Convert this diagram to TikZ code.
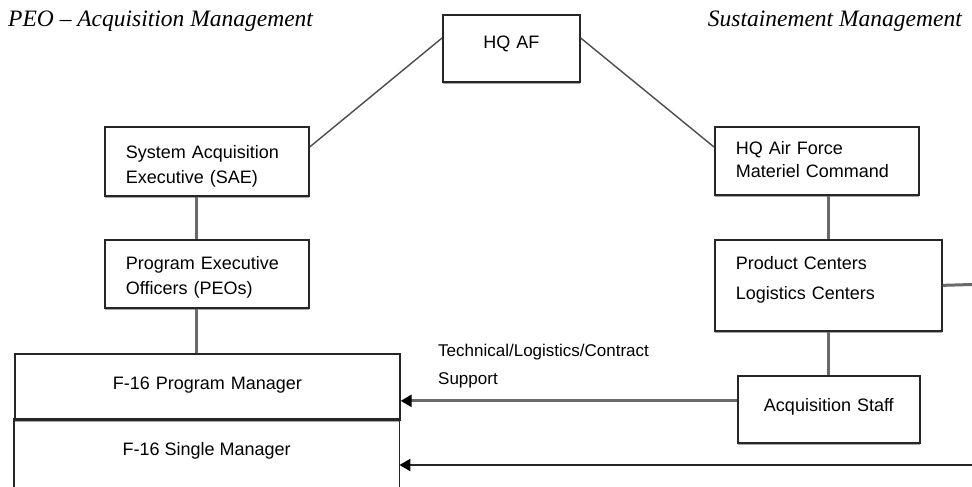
\documentclass[tikz,border=0pt]{standalone}
\usepackage{fontspec}
\setmainfont{Liberation Sans}
\newfontfamily\titlefont{Liberation Serif}
\usetikzlibrary{arrows.meta,shadows}
\definecolor{conngray}{HTML}{6A6A6A}
\definecolor{boxline}{HTML}{262626}
\newcommand{\liftl}[2]{\raisebox{#1}[\height][\depth]{\begin{tabular}{@{}l@{}}#2\end{tabular}}}
\newcommand{\liftc}[2]{\raisebox{#1}[\height][\depth]{\begin{tabular}{@{}c@{}}#2\end{tabular}}}
\begin{document}
\begin{tikzpicture}[x=1pt,y=-1pt,
  box/.style={draw=boxline, line width=1.7pt, fill=white, anchor=north west,
    inner xsep=21pt, inner ysep=0pt, align=left,
    drop shadow={shadow xshift=0pt, shadow yshift=-2pt, fill=black!35, opacity=1}},
  lbl18/.style={font=\fontsize{18}{25}\selectfont},
  conn/.style={draw=conngray, line width=3pt},
  diag/.style={draw=black!70, line width=1.4pt},
  titletext/.style={font=\titlefont\itshape\fontsize{23.5}{26}\selectfont, inner sep=0pt, anchor=base west},
  arrowhead/.style={-{Triangle[length=11pt,width=12pt,color=black]}},
]
\useasboundingbox[fill=white] (0,0) rectangle (972,487);
\clip (0,0) rectangle (972,487);

% titles
\node[titletext] (ttl) at (8,27) {PEO – Acquisition Management};
\node[titletext, anchor=base east] (ttr) at (962,27) {Sustainement Management};

% boxes
\node[box, lbl18, minimum width=137pt, minimum height=67pt, text width=95pt, align=center] (hq) at (442,14) {\liftc{4.5pt}{HQ AF}};
\node[box, lbl18, minimum width=204pt, minimum height=69pt, text width=162pt] (sae) at (104,126) {\liftl{-5pt}{System Acquisition\\Executive (SAE)}};
\node[box, lbl18, minimum width=204pt, minimum height=68pt, text width=162pt] (peo) at (104,239) {\liftl{-3pt}{Program Executive\\Officers (PEOs)}};
\node[box, font=\fontsize{18}{23}\selectfont, minimum width=204pt, minimum height=68pt, text width=162pt] (afmc) at (714,126) {\liftl{-1pt}{HQ Air Force\\Materiel Command}};
\node[box, font=\fontsize{18}{30}\selectfont, minimum width=227pt, minimum height=91pt, text width=185pt] (pc) at (714,239) {\liftl{7pt}{Product Centers\\Logistics Centers}};
\node[box, lbl18, minimum width=182pt, minimum height=67pt, text width=140pt, align=center] (acq) at (737,375) {\liftc{3pt}{Acquisition Staff}};

% F-16 boxes
\node[box, lbl18, minimum width=385pt, minimum height=66pt, text width=343pt, align=center] (pm) at (14,353) {\liftc{2pt}{F-16 Program Manager}};
\node[lbl18, anchor=north west, minimum width=385pt, minimum height=66pt, inner sep=0pt, align=center] (sm) at (14,419) {\liftc{2pt}{F-16 Single Manager}};
\draw[draw=boxline, line width=1.7pt] ([yshift=-20pt]sm.south west) -- (sm.north west) -- (sm.north east) -- ([yshift=-20pt]sm.south east);

% label
\node[font=\fontsize{17}{28}\selectfont, anchor=north west, inner sep=0pt, align=left] (tlabel) at (438,344) {Technical/Logistics/Contract\\Support};

% connectors
\draw[diag] ([yshift=-24pt]hq.north west) -- ([yshift=-21pt]sae.north east);
\draw[diag] ([yshift=-24pt]hq.north east) -- ([yshift=-21pt]afmc.north west);
\draw[conn] ([xshift=-10pt]sae.south) -- ([xshift=-10pt]peo.north);
\coordinate (peobot) at ([xshift=-10pt]peo.south);
\draw[conn] (peobot) -- (pm.north -| peobot);
\draw[conn] (afmc.south -| acq.north) -- (pc.north -| acq.north);
\draw[conn] (pc.south -| acq.north) -- (acq.north);
\coordinate (pcout) at (972,284.5);
\draw[conn] (pc.east) -- (pcout);
\coordinate (acqout) at ([yshift=8.5pt]acq.west);
\draw[conn, arrowhead] (acqout) -- (acqout -| pm.east);
\coordinate (botin) at (972,465);
\draw[draw=boxline, line width=2.2pt, arrowhead] (botin) -- (botin -| sm.east);
\end{tikzpicture}
\end{document}
